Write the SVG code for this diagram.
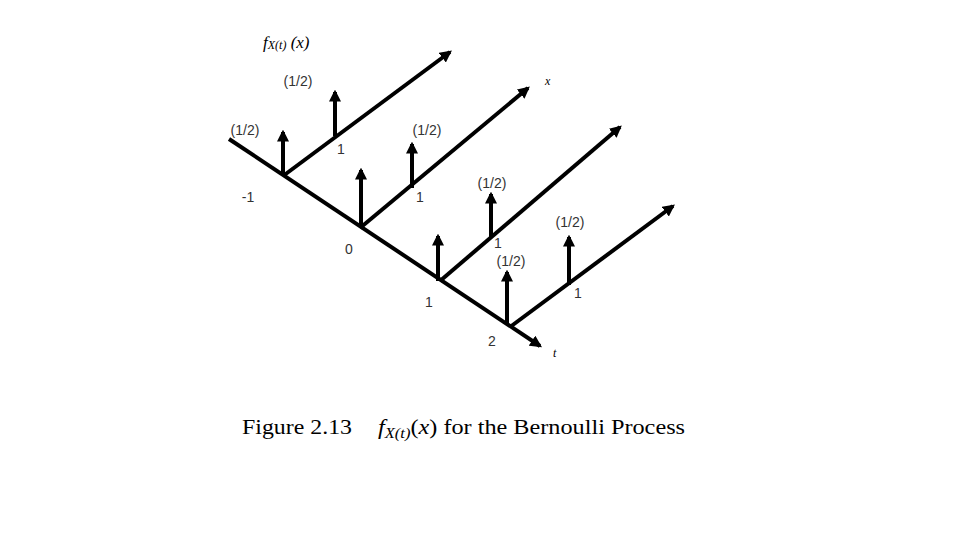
<svg xmlns="http://www.w3.org/2000/svg" width="960" height="540" viewBox="0 0 960 540">
<style>
.ax{stroke:#000;stroke-width:4;fill:none}
.imp{stroke:#000;stroke-width:4}
.l{font-family:"Liberation Sans",Arial,sans-serif;font-size:14px;fill:#333;text-anchor:middle}
.s{font-family:"Liberation Serif","Times New Roman",serif;fill:#000}
</style>
<defs>
<marker id="ah" viewBox="0 0 10 10" refX="8" refY="5" markerWidth="3" markerHeight="3" orient="auto"><path d="M0,0L10,5L0,10z" fill="#000"/></marker>
<marker id="up" viewBox="0 0 10 10" refX="8" refY="5" markerWidth="3" markerHeight="3" orient="auto"><path d="M0,0L10,5L0,10z" fill="#000"/></marker>
</defs>
<rect width="960" height="540" fill="#fff"/>
<g id="connectors">
<line class="ax" x1="229" y1="139" x2="540" y2="346" marker-end="url(#ah)"/>
<line class="ax" x1="283" y1="176" x2="450" y2="52" marker-end="url(#ah)"/>
<line class="ax" x1="360" y1="228" x2="528" y2="88" marker-end="url(#ah)"/>
<line class="ax" x1="440" y1="281" x2="620" y2="127" marker-end="url(#ah)"/>
<line class="ax" x1="510" y1="327" x2="673" y2="206" marker-end="url(#ah)"/>
</g>
<g id="impulses">
<line class="imp" x1="283" y1="176" x2="283" y2="132" marker-end="url(#up)"/>
<line class="imp" x1="335" y1="136" x2="335" y2="92" marker-end="url(#up)"/>
<line class="imp" x1="361" y1="228" x2="361" y2="170" marker-end="url(#up)"/>
<line class="imp" x1="412" y1="188" x2="412" y2="144" marker-end="url(#up)"/>
<line class="imp" x1="438" y1="281" x2="438" y2="236" marker-end="url(#up)"/>
<line class="imp" x1="491" y1="237" x2="491" y2="194" marker-end="url(#up)"/>
<line class="imp" x1="507" y1="325" x2="507" y2="272" marker-end="url(#up)"/>
<line class="imp" x1="569" y1="285" x2="569" y2="237" marker-end="url(#up)"/>
</g>
<g id="labels">
<text class="l" x="245" y="135">(1/2)</text>
<text class="l" x="298" y="86">(1/2)</text>
<text class="l" x="427" y="135">(1/2)</text>
<text class="l" x="492" y="188">(1/2)</text>
<text class="l" x="511" y="266">(1/2)</text>
<text class="l" x="570" y="227">(1/2)</text>
<text class="l" x="341" y="154">1</text>
<text class="l" x="420" y="202">1</text>
<text class="l" x="498" y="248">1</text>
<text class="l" x="578" y="298">1</text>
<text class="l" x="248" y="202">-1</text>
<text class="l" x="349" y="254">0</text>
<text class="l" x="429" y="307">1</text>
<text class="l" x="492" y="346">2</text>
<text class="s" x="545" y="85" font-size="12" font-style="italic">x</text>
<text class="s" x="553" y="357" font-size="12" font-style="italic">t</text>
<text class="s" x="263" y="48" font-size="17" font-style="italic">f<tspan font-size="12" dy="1">X(t)</tspan><tspan font-size="17" dy="-1"> (x)</tspan></text>
</g>
<g id="caption">
<text class="s" x="242" y="434" font-size="22" textLength="110" lengthAdjust="spacingAndGlyphs">Figure 2.13</text>
<text class="s" x="378" y="434" font-size="22" textLength="307" lengthAdjust="spacingAndGlyphs"><tspan font-style="italic">f</tspan><tspan font-style="italic" font-size="15" dy="4">X(t)</tspan><tspan dy="-4">(</tspan><tspan font-style="italic">x</tspan>) for the Bernoulli Process</text>
</g>
</svg>
